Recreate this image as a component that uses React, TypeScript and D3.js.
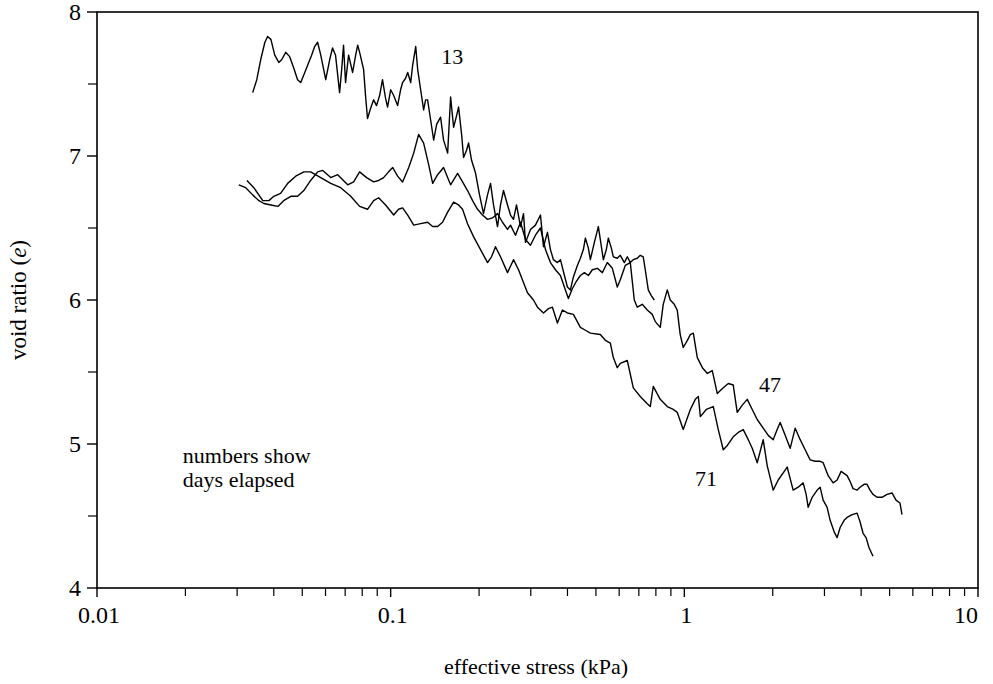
import React from 'react';
import * as d3 from 'd3';

type Pt = [number, number];

// stress (kPa), void ratio e
const day13: Pt[] = [
  [0.0339, 7.44], [0.035, 7.53], [0.0361, 7.67], [0.0373, 7.79], [0.0381, 7.83], [0.0391, 7.81],
  [0.0403, 7.7], [0.0416, 7.65], [0.0426, 7.67], [0.0439, 7.72], [0.0453, 7.69], [0.0468, 7.61],
  [0.0482, 7.53], [0.0494, 7.51], [0.051, 7.58], [0.0526, 7.65], [0.0538, 7.7], [0.0551, 7.76],
  [0.0564, 7.79], [0.0578, 7.7], [0.0601, 7.53], [0.062, 7.67], [0.0634, 7.75], [0.0649, 7.7],
  [0.067, 7.44], [0.0681, 7.6], [0.0691, 7.77], [0.0702, 7.51], [0.0719, 7.7], [0.0742, 7.58],
  [0.076, 7.7], [0.0772, 7.77], [0.0784, 7.72], [0.0809, 7.6], [0.0821, 7.42], [0.0834, 7.26],
  [0.0854, 7.33], [0.0875, 7.39], [0.0895, 7.35], [0.0917, 7.42], [0.0938, 7.53], [0.0961, 7.4],
  [0.0976, 7.34], [0.1, 7.46], [0.1024, 7.42], [0.1056, 7.35], [0.1081, 7.46], [0.1098, 7.51],
  [0.1124, 7.54], [0.1143, 7.58], [0.117, 7.51], [0.1188, 7.63], [0.1217, 7.76], [0.1236, 7.6],
  [0.1265, 7.46], [0.1295, 7.32], [0.1315, 7.39], [0.1336, 7.39], [0.1368, 7.25], [0.1401, 7.11],
  [0.1434, 7.22], [0.1479, 7.27], [0.1514, 7.11], [0.1563, 7.02], [0.16, 7.41], [0.1638, 7.2],
  [0.1677, 7.28], [0.1703, 7.34], [0.1744, 7.15], [0.1771, 6.99], [0.1813, 7.04], [0.1842, 7.09],
  [0.1886, 6.97], [0.1946, 6.88], [0.2007, 6.73], [0.2071, 6.6], [0.2137, 6.73], [0.2188, 6.81],
  [0.224, 6.66], [0.2311, 6.51], [0.2366, 6.66], [0.2422, 6.76], [0.25, 6.66], [0.2559, 6.59],
  [0.262, 6.56], [0.2682, 6.66], [0.2768, 6.51], [0.2834, 6.6], [0.2878, 6.4], [0.2993, 6.49],
  [0.3112, 6.52], [0.3237, 6.59], [0.3314, 6.37], [0.3419, 6.47], [0.35, 6.35], [0.3583, 6.28],
  [0.3697, 6.26], [0.3785, 6.28], [0.3906, 6.17], [0.3998, 6.09], [0.4093, 6.07], [0.419, 6.16],
  [0.4323, 6.24], [0.4426, 6.29], [0.4531, 6.35], [0.4603, 6.43], [0.4712, 6.36], [0.4786, 6.28],
  [0.4939, 6.4], [0.5096, 6.51], [0.5176, 6.42], [0.5299, 6.28], [0.5424, 6.35], [0.5511, 6.43],
  [0.5642, 6.36], [0.5731, 6.3], [0.5912, 6.29], [0.6053, 6.31], [0.6247, 6.26], [0.6394, 6.3],
  [0.6546, 6.26], [0.6702, 6.28], [0.6914, 6.29], [0.7079, 6.31], [0.7247, 6.3], [0.7361, 6.21],
  [0.7537, 6.07], [0.7716, 6.03], [0.7901, 6.0],
];

const day47: Pt[] = [
  [0.0304, 6.8], [0.0321, 6.78], [0.0339, 6.73], [0.0356, 6.69], [0.037, 6.67], [0.0391, 6.66],
  [0.0413, 6.65], [0.0432, 6.69], [0.0457, 6.72], [0.0482, 6.72], [0.0506, 6.76], [0.0534, 6.83],
  [0.0564, 6.89], [0.0587, 6.9], [0.0625, 6.85], [0.066, 6.87], [0.0714, 6.8], [0.0748, 6.82],
  [0.0784, 6.89], [0.0828, 6.85], [0.0875, 6.82], [0.091, 6.83], [0.0946, 6.85], [0.0984, 6.89],
  [0.1016, 6.92], [0.1056, 6.86], [0.1098, 6.82], [0.1152, 6.92], [0.1198, 7.02], [0.1245, 7.15],
  [0.1295, 7.09], [0.1347, 6.94], [0.139, 6.81], [0.1445, 6.87], [0.1514, 6.92], [0.1563, 6.85],
  [0.16, 6.8], [0.169, 6.88], [0.1757, 6.82], [0.1827, 6.76], [0.1901, 6.69], [0.1976, 6.63],
  [0.2055, 6.59], [0.2137, 6.56], [0.2223, 6.57], [0.2311, 6.6], [0.2403, 6.54], [0.25, 6.49],
  [0.2559, 6.52], [0.2661, 6.45], [0.2768, 6.54], [0.2878, 6.42], [0.2993, 6.38], [0.3112, 6.45],
  [0.3237, 6.5], [0.3366, 6.35], [0.35, 6.26], [0.364, 6.21], [0.3785, 6.17], [0.3936, 6.07],
  [0.4029, 6.01], [0.4158, 6.08], [0.4289, 6.13], [0.4426, 6.17], [0.4568, 6.19], [0.4712, 6.17],
  [0.4862, 6.21], [0.5056, 6.22], [0.5258, 6.19], [0.5468, 6.26], [0.5686, 6.22], [0.5912, 6.09],
  [0.6053, 6.14], [0.6294, 6.24], [0.6546, 6.26], [0.6755, 6.0], [0.6914, 5.95], [0.7191, 5.97],
  [0.7478, 5.93], [0.7777, 5.9], [0.7962, 5.85], [0.8279, 5.81], [0.8476, 5.97], [0.8746, 6.07],
  [0.8954, 6.0], [0.9241, 5.97], [0.9458, 5.93], [0.9683, 5.76], [0.9913, 5.67], [1.024, 5.72],
  [1.048, 5.76], [1.073, 5.77], [1.107, 5.6], [1.152, 5.53], [1.198, 5.49], [1.245, 5.51],
  [1.295, 5.35], [1.357, 5.39], [1.412, 5.42], [1.467, 5.41], [1.514, 5.22], [1.575, 5.27],
  [1.638, 5.31], [1.703, 5.24], [1.771, 5.17], [1.856, 5.11], [1.931, 5.06], [2.007, 5.03],
  [2.071, 5.1], [2.12, 5.15], [2.205, 5.06], [2.293, 4.97], [2.385, 5.11], [2.48, 5.03],
  [2.579, 4.96], [2.682, 4.89], [2.79, 4.88], [2.9, 4.88], [2.97, 4.87], [3.089, 4.78],
  [3.212, 4.73], [3.314, 4.75], [3.419, 4.81], [3.583, 4.78], [3.668, 4.74], [3.755, 4.69],
  [3.875, 4.68], [3.966, 4.7], [4.093, 4.72], [4.19, 4.72], [4.289, 4.68], [4.391, 4.65],
  [4.531, 4.63], [4.712, 4.63], [4.9, 4.65], [5.096, 4.66], [5.258, 4.61], [5.424, 4.59],
  [5.511, 4.51],
];

const day71: Pt[] = [
  [0.0324, 6.83], [0.0342, 6.78], [0.0367, 6.69], [0.0385, 6.69], [0.04, 6.72], [0.0422, 6.74],
  [0.0446, 6.81], [0.0475, 6.86], [0.0506, 6.89], [0.0534, 6.89], [0.0578, 6.85], [0.0625, 6.81],
  [0.0676, 6.78], [0.0731, 6.72], [0.0784, 6.65], [0.0834, 6.63], [0.0875, 6.69], [0.091, 6.71],
  [0.0961, 6.66], [0.1024, 6.59], [0.1064, 6.63], [0.1098, 6.64], [0.1143, 6.59], [0.1198, 6.52],
  [0.1265, 6.53], [0.1336, 6.54], [0.139, 6.51], [0.1445, 6.51], [0.1502, 6.54], [0.1563, 6.61],
  [0.1638, 6.68], [0.1703, 6.66], [0.1757, 6.63], [0.1827, 6.53], [0.1915, 6.44], [0.2023, 6.35],
  [0.2137, 6.26], [0.2205, 6.3], [0.2275, 6.37], [0.2366, 6.3], [0.25, 6.19], [0.262, 6.28],
  [0.2725, 6.21], [0.2923, 6.05], [0.3064, 6.0], [0.3162, 5.95], [0.3314, 5.91], [0.3446, 5.94],
  [0.3555, 5.95], [0.3697, 5.84], [0.3845, 5.93], [0.3998, 5.91], [0.419, 5.9], [0.4426, 5.81],
  [0.4603, 5.79], [0.4786, 5.77], [0.5176, 5.76], [0.5383, 5.72], [0.5598, 5.7], [0.5731, 5.6],
  [0.5912, 5.53], [0.6053, 5.56], [0.6394, 5.58], [0.6702, 5.39], [0.7079, 5.33], [0.7478, 5.28],
  [0.7656, 5.26], [0.7838, 5.4], [0.8279, 5.31], [0.8746, 5.26], [0.9167, 5.24], [0.9458, 5.22],
  [0.9913, 5.1], [1.048, 5.24], [1.09, 5.31], [1.116, 5.33], [1.134, 5.19], [1.188, 5.24],
  [1.255, 5.26], [1.305, 5.1], [1.357, 4.96], [1.401, 4.99], [1.467, 5.05], [1.526, 5.08],
  [1.587, 5.1], [1.651, 5.03], [1.703, 4.97], [1.771, 4.87], [1.856, 5.03], [1.915, 4.85],
  [2.007, 4.68], [2.088, 4.75], [2.171, 4.8], [2.24, 4.84], [2.293, 4.76], [2.347, 4.68],
  [2.442, 4.7], [2.539, 4.73], [2.599, 4.65], [2.641, 4.56], [2.725, 4.63], [2.834, 4.68],
  [2.9, 4.7], [2.97, 4.61], [3.064, 4.56], [3.137, 4.47], [3.237, 4.39], [3.314, 4.35],
  [3.393, 4.42], [3.5, 4.47], [3.583, 4.49], [3.726, 4.51], [3.875, 4.52], [3.966, 4.46],
  [4.061, 4.38], [4.158, 4.35], [4.256, 4.28], [4.391, 4.22],
];

const series = [day13, day47, day71];

const xMajorTicks = [0.01, 0.1, 1, 10];
const xMajorLabels = ['0.01', '0.1', '1', '10'];
const yMajorTicks = [4, 5, 6, 7, 8];
const yMinorTicks = [4.5, 5.5, 6.5, 7.5];

const curveLabels = [
  { text: '13', s: 0.162, e: 7.64 },
  { text: '47', s: 1.957, e: 5.36 },
  { text: '71', s: 1.185, e: 4.71 },
];
const noteLines = ['numbers show', 'days elapsed'];
const noteAt = { s: 0.0196, e: [4.87, 4.7] };

const W = 993;
const H = 684;
const FONT = "'Liberation Serif', 'DejaVu Serif', serif";

export default function App() {
  const x = d3.scaleLog().domain([0.01, 10]).range([97, 978]);
  const y = d3.scaleLinear().domain([4, 8]).range([588, 12]);
  const line = d3
    .line<Pt>()
    .x((d) => x(d[0]))
    .y((d) => y(d[1]));
  const minorX = x.ticks().filter((t) => !xMajorTicks.some((m) => Math.abs(m - t) < 1e-9));
  const [x0, x1] = x.range();
  const [y0, y1] = y.range();

  return (
    <svg
      width={W}
      height={H}
      style={{ position: 'absolute', left: 0, top: 0, background: '#fff' }}
      fontFamily={FONT}
    >
      <rect x={0} y={0} width={W} height={H} fill="#fff" />
      {/* frame */}
      <rect x={x0} y={y1} width={x1 - x0} height={y0 - y1} fill="none" stroke="#000" strokeWidth={1.6} />
      {/* y ticks */}
      {yMajorTicks.map((t) => (
        <g key={'ym' + t}>
          <line x1={x0 - 10} x2={x0} y1={y(t)} y2={y(t)} stroke="#000" strokeWidth={1.4} />
          <text x={x0 - 16} y={y(t)} dy="0.35em" textAnchor="end" fontSize={24}>
            {t}
          </text>
        </g>
      ))}
      {yMinorTicks.map((t) => (
        <line key={'yn' + t} x1={x0 - 9} x2={x0} y1={y(t)} y2={y(t)} stroke="#000" strokeWidth={1.2} />
      ))}
      {/* x ticks */}
      {xMajorTicks.map((t, i) => (
        <g key={'xm' + t}>
          <line x1={x(t)} x2={x(t)} y1={y0} y2={y0 + 9} stroke="#000" strokeWidth={1.4} />
          <text
            x={i === xMajorTicks.length - 1 ? x(t) - 12 : x(t) + 2}
            y={y0 + 35}
            textAnchor="middle"
            fontSize={24}
          >
            {xMajorLabels[i]}
          </text>
        </g>
      ))}
      {minorX.map((t) => (
        <line key={'xn' + t} x1={x(t)} x2={x(t)} y1={y0} y2={y0 + 8} stroke="#000" strokeWidth={1.2} />
      ))}
      {/* axis titles */}
      <text x={536} y={674} textAnchor="middle" fontSize={22}>
        effective stress (kPa)
      </text>
      <text transform={`translate(26, ${(y0 + y1) / 2}) rotate(-90)`} textAnchor="middle" fontSize={23}>
        void ratio (<tspan fontStyle="italic">e</tspan>)
      </text>
      {/* curves */}
      {series.map((s, i) => (
        <path key={i} d={line(s) || ''} fill="none" stroke="#000" strokeWidth={1.4} strokeLinejoin="round" />
      ))}
      {/* labels */}
      {curveLabels.map((c) => (
        <text key={c.text} x={x(c.s)} y={y(c.e)} textAnchor="middle" fontSize={22}>
          {c.text}
        </text>
      ))}
      {noteLines.map((t, i) => (
        <text key={t} x={x(noteAt.s)} y={y(noteAt.e[i])} fontSize={22}>
          {t}
        </text>
      ))}
    </svg>
  );
}
